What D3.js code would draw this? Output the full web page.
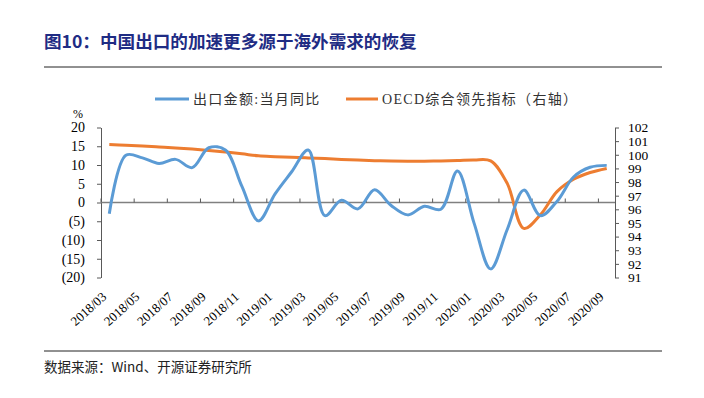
<!DOCTYPE html>
<html>
<head>
<meta charset="utf-8">
<script src="https://cdn.jsdelivr.net/npm/d3@7"></script>
<style>
  body { margin: 0; background: #fff; }
  svg { display: block; }
</style>
</head>
<body>
<div id="chart"></div>
<script>
// months on the category axis
const months = [
  "2018/03","2018/04","2018/05","2018/06","2018/07","2018/08","2018/09","2018/10","2018/11","2018/12",
  "2019/01","2019/02","2019/03","2019/04","2019/05","2019/06","2019/07","2019/08","2019/09","2019/10",
  "2019/11","2019/12","2020/01","2020/02","2020/03","2020/04","2020/05","2020/06","2020/07","2020/08","2020/09"
]
// 出口金额:当月同比 (%), left axis
const exportYoy = [
  -3.0, 12.6, 11.9, 10.4, 11.5, 9.3, 14.6, 14.0, 4.3, -4.9,
  2.3, 8.2, 14.0, -3.5, 0.6, -1.7, 3.4, -0.8, -3.3, -1.0,
  -1.8, 8.4, -5.5, -17.7, -7.2, 3.3, -3.5, 0.3, 6.8, 9.4, 9.9
]
// OECD综合领先指标, right axis
const oecdCli = [
  100.75, 100.70, 100.64, 100.57, 100.50, 100.42, 100.32, 100.20, 100.07, 99.92,
  99.86, 99.81, 99.77, 99.72, 99.66, 99.61, 99.57, 99.54, 99.53, 99.53,
  99.55, 99.58, 99.62, 99.55, 97.9, 94.6, 95.6, 97.3, 98.2, 98.7, 99.0
]
const leftTicks = [-20, -15, -10, -5, 0, 5, 10, 15, 20]
const rightTicks = [91, 92, 93, 94, 95, 96, 97, 98, 99, 100, 101, 102]
const seriesNames = ["出口金额:当月同比", "OECD综合领先指标（右轴）"]
const colors = ["#5b9bd5", "#ed7d31"]

const width = 704, height = 398
const plot = { left: 101, right: 615, top: 127.5, bottom: 277.5 }

const svg = d3.select("#chart").append("svg")
  .attr("width", width).attr("height", height)

const serif = "'Liberation Serif', 'Noto Sans CJK SC', serif"

// title + rules
svg.append("text")
  .attr("x", 44).attr("y", 47.5)
  .attr("fill", "#1f2c84")
  .style("font-family", "'Noto Sans CJK SC', sans-serif")
  .style("font-weight", "bold")
  .style("font-size", "17.6px")
  .text("图10：中国出口的加速更多源于海外需求的恢复")

svg.append("line").attr("x1", 44).attr("x2", 662).attr("y1", 67).attr("y2", 67)
  .attr("stroke", "#222").attr("stroke-width", 1)
svg.append("line").attr("x1", 44).attr("x2", 662).attr("y1", 351).attr("y2", 351)
  .attr("stroke", "#222").attr("stroke-width", 1)

svg.append("text")
  .attr("x", 44).attr("y", 372)
  .attr("fill", "#222")
  .style("font-family", "'Noto Sans CJK SC', sans-serif")
  .style("font-size", "13.5px")
  .text("数据来源：Wind、开源证券研究所")

// scales
const xBand = d3.scaleBand().domain(months).range([plot.left, plot.right]).padding(0)
const xScale = d => xBand(d) + xBand.bandwidth() / 2
const yLeft = d3.scaleLinear().domain([-20, 20]).range([plot.bottom, plot.top])
const yRight = d3.scaleLinear().domain([91, 102]).range([plot.bottom, plot.top])

// left axis
const leftAxis = svg.append("g")
  .attr("transform", `translate(${plot.left},0)`)
  .call(d3.axisLeft(yLeft).tickValues(leftTicks).tickSize(4).tickSizeOuter(0).tickPadding(12)
    .tickFormat(d => d < 0 ? "(" + Math.abs(d) + ")" : d))
leftAxis.select(".domain").attr("stroke", "#595959")
leftAxis.selectAll(".tick line").attr("stroke", "#595959")
leftAxis.selectAll("text").attr("fill", "#000")
  .style("font-family", serif).style("font-size", "14px")

// right axis
const rightAxis = svg.append("g")
  .attr("transform", `translate(${plot.right},0)`)
  .call(d3.axisRight(yRight).tickValues(rightTicks).tickSize(4).tickSizeOuter(0).tickPadding(9))
rightAxis.select(".domain").attr("stroke", "#595959")
rightAxis.selectAll(".tick line").attr("stroke", "#595959")
rightAxis.selectAll("text").attr("fill", "#000")
  .style("font-family", serif).style("font-size", "13.5px")

svg.append("text").attr("x", 78).attr("y", 118)
  .attr("text-anchor", "middle")
  .style("font-family", serif).style("font-size", "12px")
  .text("%")

// category axis at zero
const zeroY = yLeft(0)
svg.append("line")
  .attr("x1", plot.left).attr("x2", plot.right)
  .attr("y1", zeroY).attr("y2", zeroY)
  .attr("stroke", "#808080").attr("stroke-width", 1.5)

const labelled = months.filter((d, i) => i % 2 === 0)
svg.selectAll(".xtick").data(labelled).enter().append("line")
  .attr("class", "xtick")
  .attr("x1", d => xBand(d)).attr("x2", d => xBand(d))
  .attr("y1", zeroY).attr("y2", zeroY - 4)
  .attr("stroke", "#595959")

svg.selectAll(".xlabel").data(labelled).enter().append("text")
  .attr("class", "xlabel")
  .attr("text-anchor", "end")
  .attr("transform", d => `translate(${xScale(d) - 2},298) rotate(-42)`)
  .style("font-family", serif).style("font-size", "13px")
  .text(d => d)

// lines
const curve = d3.curveCatmullRom.alpha(0.5)
const blueLine = d3.line().x((d, i) => xScale(months[i])).y(d => yLeft(d)).curve(curve)
const orangeLine = d3.line().x((d, i) => xScale(months[i])).y(d => yRight(d)).curve(curve)

svg.append("path").attr("d", orangeLine(oecdCli))
  .attr("fill", "none").attr("stroke", colors[1]).attr("stroke-width", 3)
svg.append("path").attr("d", blueLine(exportYoy))
  .attr("fill", "none").attr("stroke", colors[0]).attr("stroke-width", 3)

// legend
const legendPos = [{ x: 155, w: 34 }, { x: 346, w: 32 }]
seriesNames.forEach((name, i) => {
  const g = svg.append("g").attr("transform", `translate(${legendPos[i].x},99)`)
  g.append("line").attr("x1", 0).attr("x2", legendPos[i].w)
    .attr("stroke", colors[i]).attr("stroke-width", 3)
  g.append("text").attr("x", legendPos[i].w + 4).attr("y", 5)
    .attr("fill", "#333")
    .style("font-family", serif).style("font-size", "14px")
    .style("letter-spacing", "1.3px")
    .text(name)
})
</script>
</body>
</html>
